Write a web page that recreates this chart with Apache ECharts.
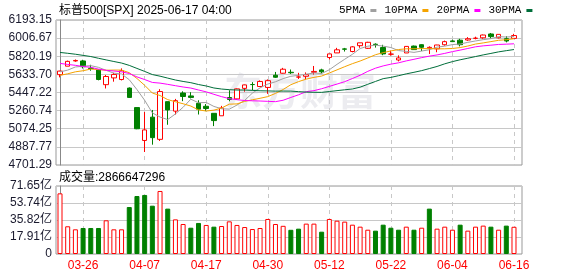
<!DOCTYPE html>
<html><head><meta charset="utf-8">
<script src="https://cdn.jsdelivr.net/npm/echarts@6.0.0/dist/echarts.min.js"></script>
<style>html,body{margin:0;padding:0;background:#fff}#c{width:578px;height:276px}</style>
</head><body><div id="c"></div>
<script>
const titleText = '标普500[SPX] 2025-06-17 04:00';
const volTitle = '成交量';
const lastVolume = 2866647296;
const dates = ['03-21','03-24','03-25','03-26','03-27','03-28','03-31','04-01','04-02','04-03','04-04','04-07','04-08','04-09','04-10','04-11','04-14','04-15','04-16','04-17','04-21','04-22','04-23','04-24','04-25','04-28','04-29','04-30','05-01','05-02','05-05','05-06','05-07','05-08','05-09','05-12','05-13','05-14','05-15','05-16','05-19','05-20','05-21','05-22','05-23','05-27','05-28','05-29','05-30','06-02','06-03','06-04','06-05','06-06','06-09','06-10','06-11','06-12','06-13','06-16'];
const openP = [5630.73,5718.08,5771.66,5771.66,5695.64,5679.29,5527.91,5597.53,5580.76,5492.74,5292.14,4953.79,5193.57,4965.28,5353.15,5255.56,5441.96,5411.99,5335.75,5305.45,5232.94,5207.67,5395.92,5381.38,5489.73,5529.22,5508.87,5499.44,5625.14,5645.57,5655.32,5605.88,5614.13,5655.28,5679.80,5807.60,5854.47,5896.00,5869.00,5929.00,5902.00,5944.00,5910.00,5841.26,5781.89,5854.07,5925.00,5939.00,5903.00,5896.68,5938.56,5978.00,5985.67,5987.06,6004.60,6009.91,6049.38,6009.90,6000.56,6004.00];
const closeP = [5667.56,5767.57,5776.65,5712.20,5693.31,5580.94,5611.85,5633.07,5670.97,5396.52,5074.08,5062.25,4982.77,5456.90,5268.05,5363.36,5405.97,5396.63,5275.70,5282.70,5158.20,5287.76,5375.86,5484.77,5525.21,5528.75,5560.83,5569.06,5604.14,5686.67,5650.38,5606.91,5631.28,5663.94,5659.91,5844.19,5886.55,5892.58,5916.93,5958.38,5963.60,5940.46,5844.61,5842.01,5802.82,5921.54,5888.55,5912.17,5911.69,5935.94,5970.37,5970.81,5939.30,6000.36,6005.88,6038.81,6022.24,6045.26,5976.97,6033.11];
const lowP = [5603.10,5718.08,5763.75,5694.41,5670.94,5572.42,5488.73,5558.52,5571.48,5390.83,5069.90,4835.04,4910.42,4948.43,5115.27,5220.77,5358.02,5386.44,5220.79,5255.58,5101.63,5207.67,5356.31,5371.96,5455.86,5468.64,5505.70,5433.24,5597.35,5641.64,5637.97,5586.38,5584.29,5631.80,5642.87,5786.08,5853.71,5868.60,5861.00,5907.00,5895.69,5909.26,5830.91,5825.82,5767.41,5854.07,5886.00,5873.80,5843.66,5861.43,5929.00,5966.11,5921.20,5978.63,5994.18,6000.26,6002.32,6003.88,5963.21,6004.00];
const highP = [5670.84,5775.14,5786.95,5783.62,5732.28,5685.89,5627.56,5650.57,5695.31,5499.53,5292.14,5246.57,5267.47,5481.34,5353.15,5381.46,5459.46,5450.41,5367.24,5328.31,5232.94,5309.60,5469.69,5489.40,5528.11,5553.66,5571.95,5581.84,5658.91,5700.70,5683.88,5649.58,5653.86,5720.10,5691.70,5844.19,5906.63,5906.00,5924.00,5958.62,5968.61,5953.06,5938.00,5878.08,5829.51,5924.33,5930.00,5943.13,5922.14,5937.40,5981.35,5990.48,5999.70,6016.87,6021.31,6043.01,6059.40,6045.43,6026.16,6050.83];
const prevClose = 5662.89;
const ma5 = [5659.10,5677.59,5709.99,5717.37,5723.46,5706.13,5674.99,5646.27,5638.03,5578.67,5477.30,5367.38,5237.32,5194.50,5168.81,5226.67,5295.41,5378.18,5341.94,5344.87,5303.84,5280.20,5276.04,5317.86,5366.36,5440.47,5495.08,5533.72,5557.60,5589.89,5614.22,5623.43,5635.88,5647.84,5642.48,5681.25,5737.17,5789.43,5840.03,5899.73,5923.61,5934.39,5924.80,5909.81,5878.70,5870.29,5859.91,5873.42,5887.35,5913.98,5923.74,5940.20,5945.62,5963.36,5977.34,5991.03,6001.32,6022.51,6017.83,6023.28];
const ma10 = [5624.19,5639.49,5659.95,5671.24,5688.42,5682.62,5676.29,5678.13,5677.70,5651.06,5591.72,5521.18,5441.80,5416.27,5373.74,5351.98,5331.39,5307.75,5268.22,5256.84,5265.25,5287.80,5327.11,5329.90,5355.62,5372.16,5387.64,5404.88,5437.73,5478.13,5527.34,5559.26,5584.80,5602.72,5616.19,5647.73,5680.30,5712.66,5743.93,5771.11,5802.43,5835.78,5857.12,5874.92,5889.21,5896.95,5897.15,5899.11,5898.58,5896.34,5897.02,5900.05,5909.52,5925.36,5945.66,5957.39,5970.76,5984.07,5990.59,6000.31];
const ma20 = [5746.59,5735.80,5726.87,5714.68,5706.27,5687.59,5675.70,5668.44,5659.86,5642.76,5607.95,5580.34,5550.87,5543.75,5531.08,5517.30,5503.84,5492.94,5472.96,5453.95,5428.48,5404.49,5384.45,5373.08,5364.68,5362.07,5359.52,5356.32,5352.98,5367.48,5396.30,5423.53,5455.96,5466.31,5485.90,5509.94,5533.97,5558.77,5590.83,5624.62,5664.89,5697.52,5720.96,5738.82,5752.70,5772.34,5788.73,5805.88,5821.26,5833.72,5849.72,5867.92,5883.32,5900.14,5917.44,5927.17,5933.95,5941.59,5944.59,5948.33];
const ma30 = [5859.29,5850.68,5841.02,5829.14,5817.19,5799.38,5782.62,5766.07,5750.30,5726.27,5694.96,5664.26,5631.85,5615.21,5595.43,5575.72,5560.93,5548.21,5529.31,5514.12,5493.72,5482.83,5476.29,5472.47,5472.59,5468.92,5465.11,5463.59,5461.22,5462.01,5461.44,5456.08,5451.24,5449.63,5448.51,5457.29,5466.45,5475.10,5483.30,5502.02,5531.67,5560.95,5589.68,5602.51,5620.34,5638.94,5655.03,5672.22,5693.42,5715.19,5742.26,5765.03,5783.81,5800.00,5817.02,5834.02,5849.40,5865.28,5877.70,5889.25];
// volume in 亿 (1e8)
const volume = [63.9,29.2,26.0,27.4,27.4,27.4,35.5,26.0,26.0,49.5,61.1,62.2,50.9,66.4,47.8,36.5,31.6,27.7,32.7,30.6,28.8,29.5,34.4,30.6,28.4,26.3,27.4,36.9,31.6,29.7,25.5,26.7,32.0,32.0,23.5,36.9,35.1,34.1,30.9,28.8,25.6,24.6,30.9,27.7,25.6,28.8,25.6,27.7,47.8,26.7,28.8,25.6,30.9,24.6,28.8,29.9,28.8,25.6,29.9,28.67];
const maNames = ['5PMA','10PMA','20PMA','30PMA'];
const priceTickLabels = ['4701.29','4887.77','5074.25','5260.74','5447.22','5633.70','5820.19','6006.67','6193.15'];
const volTickLabels = ['0','17.91亿','35.82亿','53.74亿','71.65亿'];
const xTickLabels = ['03-26','04-07','04-17','04-30','05-12','05-22','06-04','06-16'];

const RED = '#ff0000', GREEN = '#008000';
const GRID_C = '#c8c8c8', FRAME_C = '#999999';
const maColors = ['#a0a0a0', '#f5a300', '#ff00ff', '#006e3a'];

const pMin = parseFloat(priceTickLabels[0]);
const pMax = parseFloat(priceTickLabels[priceTickLabels.length - 1]);
const pStep = (pMax - pMin) / (priceTickLabels.length - 1);
const priceVals = priceTickLabels.map((_, i) => pMin + i * pStep);
const vMax = parseFloat(volTickLabels[volTickLabels.length - 1]);
const vStep = vMax / (volTickLabels.length - 1);
const volVals = volTickLabels.map((_, i) => i * vStep);
const xTickIdx = xTickLabels.map(l => dates.indexOf(l));

const xMin = -0.52, xMax = 60.04;
function xAxisCfg(grid, showLabels) {
  return {
    type: 'value', gridIndex: grid, min: xMin, max: xMax,
    axisLine: { show: false },
    axisTick: { show: false, customValues: xTickIdx },
    axisLabel: {
      show: showLabels, customValues: xTickIdx,
      formatter: v => dates[Math.round(v)] || '',
      color: RED, fontFamily: 'Liberation Sans', fontSize: 12, margin: 6
    },
    splitLine: { show: true, lineStyle: { color: GRID_C, type: [4, 4], width: 1 } }
  };
}

const chart = echarts.init(document.getElementById('c'), null, { renderer: 'canvas' });
chart.setOption({
  animation: false,
  backgroundColor: '#ffffff',
  title: [
    { text: titleText, left: 54, top: 0, textStyle: { fontSize: 12, fontWeight: 'normal', color: '#000', fontFamily: 'Liberation Sans, "Noto Sans CJK SC"' } },
    { text: volTitle + ':' + lastVolume, left: 54, top: 167, textStyle: { fontSize: 12, fontWeight: 'normal', color: '#000', fontFamily: 'Liberation Sans, "Noto Sans CJK SC"' } }
  ],
  legend: {
    data: maNames, left: 334, top: 0, align: 'right', icon: 'rect',
    itemWidth: 6, itemHeight: 3, itemGap: 8, selectedMode: false,
    textStyle: { fontSize: 11, color: '#000', fontFamily: 'Liberation Mono' }
  },
  graphic: [{
    type: 'text', left: 224, top: 72, z: 1, silent: true,
    style: { text: '东方财富', font: 'bold 38px "Noto Sans CJK SC"', fill: 'rgba(200,200,212,0.35)' }
  }],
  grid: [
    { left: 56, top: 20, width: 466, height: 145, show: true, borderColor: FRAME_C, borderWidth: 1, backgroundColor: 'transparent' },
    { left: 56, top: 186, width: 466, height: 68, show: true, borderColor: FRAME_C, borderWidth: 1, backgroundColor: 'transparent' }
  ],
  xAxis: [xAxisCfg(0, false), xAxisCfg(1, true)],
  yAxis: [
    {
      type: 'value', gridIndex: 0, min: pMin, max: pMax,
      axisLine: { show: true, lineStyle: { color: '#888' } },
      axisTick: { show: false, customValues: priceVals },
      axisLabel: {
        customValues: priceVals, showMinLabel: true, showMaxLabel: true, hideOverlap: false,
        formatter: v => priceTickLabels[Math.round((v - pMin) / pStep)],
        color: '#1a1a2e', fontFamily: 'Liberation Sans', fontSize: 12, margin: 4
      },
      splitLine: { show: true, lineStyle: { color: GRID_C, width: 1 } }
    },
    {
      type: 'value', gridIndex: 1, min: 0, max: vMax,
      axisLine: { show: true, lineStyle: { color: '#888' } },
      axisTick: { show: false, customValues: volVals },
      axisLabel: {
        customValues: volVals, showMinLabel: true, showMaxLabel: true, hideOverlap: false,
        formatter: v => volTickLabels[Math.round(v / vStep)],
        color: '#1a1a2e', fontFamily: 'Liberation Sans, "Noto Sans CJK SC"', fontSize: 12, margin: 4
      },
      splitLine: { show: true, lineStyle: { color: GRID_C, width: 1 } }
    }
  ],
  series: [
    {
      type: 'candlestick', xAxisIndex: 0, yAxisIndex: 0, barWidth: 5, z: 3,
      data: dates.map((d, i) => [i, openP[i], closeP[i], lowP[i], highP[i]]),
      encode: { x: 0, y: [1, 2, 3, 4] },
      itemStyle: { color: '#ffffff', color0: GREEN, borderColor: RED, borderColor0: GREEN, borderWidth: 1 }
    },
    ...maNames.map((n, s) => ({
      name: n, type: 'line', xAxisIndex: 0, yAxisIndex: 0, showSymbol: false, symbol: 'none',
      color: maColors[s], z: 4,
      lineStyle: { color: maColors[s], width: 1 },
      data: [ma5, ma10, ma20, ma30][s].map((v, i) => [i, v])
    })),
    {
      type: 'bar', xAxisIndex: 1, yAxisIndex: 1, barWidth: 5, z: 3,
      data: volume.map((v, i) => {
        const up = closeP[i] >= (i ? closeP[i - 1] : prevClose);
        return {
          value: [i, v],
          itemStyle: up ? { color: '#ffffff', borderColor: RED, borderWidth: 1 } : { color: GREEN, borderColor: GREEN, borderWidth: 1 }
        };
      })
    }
  ]
});
</script></body></html>
